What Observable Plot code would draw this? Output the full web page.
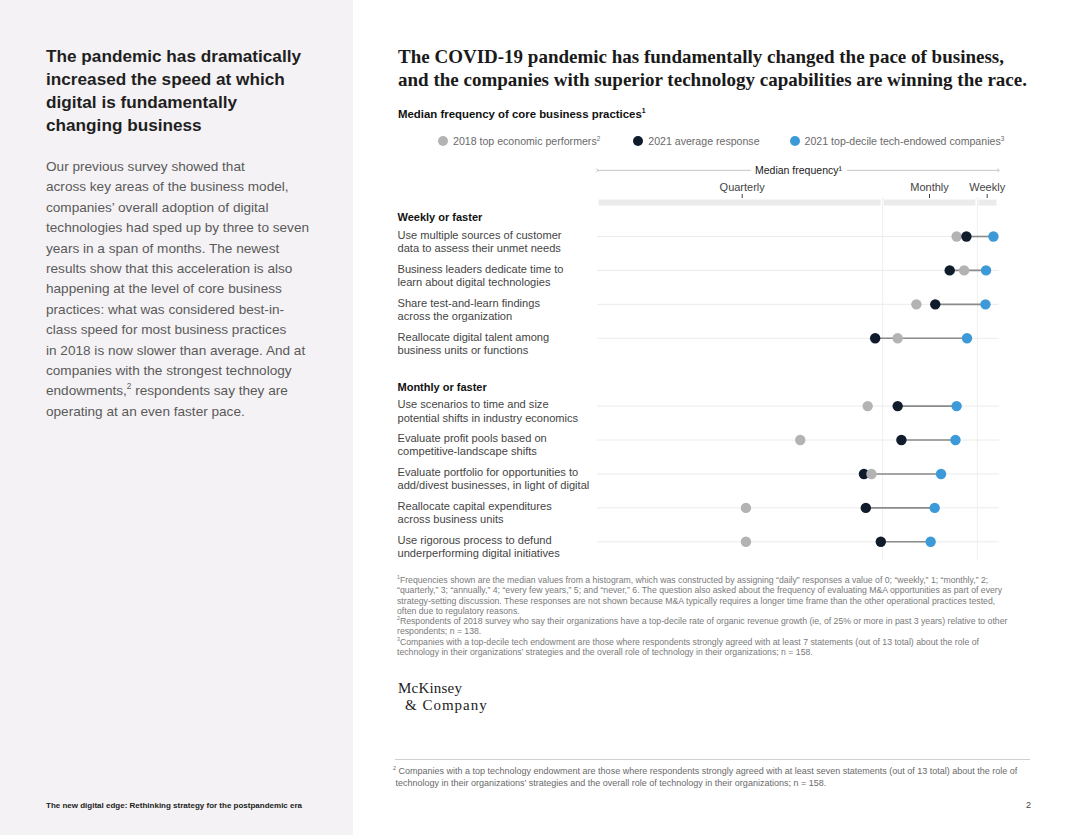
<!DOCTYPE html>
<html>
<head>
<meta charset="utf-8">
<script src="https://cdn.jsdelivr.net/npm/d3@7"></script>
<script src="https://cdn.jsdelivr.net/npm/@observablehq/plot@0.6"></script>
<style>
  html, body { margin: 0; padding: 0; }
  body { width: 1080px; height: 835px; position: relative; overflow: hidden; background: #fff; font-family: "Liberation Sans", Arial, sans-serif; }
  .abs { position: absolute; white-space: nowrap; }
  #leftpanel { position: absolute; left: 0; top: 0; width: 353px; height: 835px; background: #f4f2f4; }
  #lhead { left: 46px; top: 45px; font-size: 17.2px; line-height: 23px; font-weight: bold; color: #1f1f1f; }
  #lbody { left: 46px; top: 157px; font-size: 13.6px; line-height: 20.4px; color: #5a5a5a; }
  #lfoot { left: 46px; top: 801px; font-size: 8px; font-weight: bold; color: #222; }
  #title { left: 398px; top: 45px; font-family: "Liberation Serif", serif; font-weight: bold; font-size: 19px; line-height: 23px; color: #1a1a1a; }
  #subtitle { left: 398px; top: 108px; font-size: 11.4px; font-weight: bold; color: #111; }
  #legend { left: 438px; top: 135px; font-size: 10.6px; color: #6a6a6a; display: flex; }
  #legend .item { display: flex; align-items: center; margin-right: 0; }
  #legend .sw { width: 10px; height: 10px; border-radius: 50%; margin-right: 5px; }
  #chart { left: 390px; top: 160px; }
  #notes { left: 397px; top: 575px; font-size: 8.7px; line-height: 10.3px; color: #7a7a7a; }
  .logo { font-family: "Liberation Serif", serif; font-size: 15px; line-height: 16px; color: #222; }
  #logo1 { left: 398px; top: 680px; letter-spacing: 0.2px; }
  #logo2 { left: 405px; top: 696.5px; letter-spacing: 1px; }
  #hr { left: 395px; top: 759px; width: 635px; height: 0; border-top: 1px solid #cfcfcf; }
  #bnote { left: 393px; top: 765px; font-size: 9px; line-height: 12px; color: #6a6a6a; }
  #pnum { left: 1026px; top: 800px; font-size: 9px; color: #444; }
  sup { font-size: 0.6em; line-height: 0; vertical-align: 0.7em; }
</style>
</head>
<body>
<div id="leftpanel"></div>
<div class="abs" id="lhead">The pandemic has dramatically<br>increased the speed at which<br>digital is fundamentally<br>changing business</div>
<div class="abs" id="lbody">Our previous survey showed that<br>across key areas of the business model,<br>companies’ overall adoption of digital<br>technologies had sped up by three to seven<br>years in a span of months. The newest<br>results show that this acceleration is also<br>happening at the level of core business<br>practices: what was considered best-in-<br>class speed for most business practices<br>in 2018 is now slower than average. And at<br>companies with the strongest technology<br>endowments,<sup>2</sup> respondents say they are<br>operating at an even faster pace.</div>
<div class="abs" id="lfoot">The new digital edge: Rethinking strategy for the postpandemic era</div>

<div class="abs" id="title">The COVID-19 pandemic has fundamentally changed the pace of business,<br>and the companies with superior technology capabilities are winning the race.</div>
<div class="abs" id="subtitle">Median frequency of core business practices<sup>1</sup></div>
<div class="abs" id="legend"></div>
<div class="abs" id="chart"></div>
<div class="abs" id="notes"><sup>1</sup>Frequencies shown are the median values from a histogram, which was constructed by assigning “daily” responses a value of 0; “weekly,” 1; “monthly,” 2;<br>“quarterly,” 3; “annually,” 4; “every few years,” 5; and “never,” 6. The question also asked about the frequency of evaluating M&amp;A opportunities as part of every<br>strategy-setting discussion. These responses are not shown because M&amp;A typically requires a longer time frame than the other operational practices tested,<br>often due to regulatory reasons.<br><sup>2</sup>Respondents of 2018 survey who say their organizations have a top-decile rate of organic revenue growth (ie, of 25% or more in past 3 years) relative to other<br>respondents; n = 138.<br><sup>3</sup>Companies with a top-decile tech endowment are those where respondents strongly agreed with at least 7 statements (out of 13 total) about the role of<br>technology in their organizations’ strategies and the overall role of technology in their organizations; n = 158.</div>
<div class="abs logo" id="logo1">McKinsey</div>
<div class="abs logo" id="logo2">&amp; Company</div>
<div class="abs" id="hr"></div>
<div class="abs" id="bnote"><sup>2</sup> Companies with a top technology endowment are those where respondents strongly agreed with at least seven statements (out of 13 total) about the role of<br>&nbsp;technology in their organizations’ strategies and the overall role of technology in their organizations; n = 158.</div>
<div class="abs" id="pnum">2</div>

<script>
// ---- Data ----
const groups = ["Weekly or faster", "Monthly or faster"];
const practices = [
  "Use multiple sources of customer\ndata to assess their unmet needs",
  "Business leaders dedicate time to\nlearn about digital technologies",
  "Share test-and-learn findings\nacross the organization",
  "Reallocate digital talent among\nbusiness units or functions",
  "Use scenarios to time and size\npotential shifts in industry economics",
  "Evaluate profit pools based on\ncompetitive-landscape shifts",
  "Evaluate portfolio for opportunities to\nadd/divest businesses, in light of digital",
  "Reallocate capital expenditures\nacross business units",
  "Use rigorous process to defund\nunderperforming digital initiatives"
];
const practiceGroup = [0, 0, 0, 0, 1, 1, 1, 1, 1];
const seriesNames = ["2018 top economic performers", "2021 average response", "2021 top-decile tech-endowed companies"];
const seriesSup = ["2", "", "3"];
const seriesColors = ["#b3b3b3", "#101b2b", "#3d9ad8"];
// median frequency score (1 = weekly, 2 = monthly, 3 = quarterly)
const top2018    = [1.53, 1.40, 2.07, 2.17, 2.33, 2.69, 2.31, 2.98, 2.98];
const avg2021    = [1.36, 1.65, 1.90, 2.29, 2.17, 2.15, 2.35, 2.34, 2.26];
const topTech2021 = [0.89, 1.02, 1.03, 1.35, 1.53, 1.55, 1.80, 1.91, 1.98];
const tickValues = [3, 2, 1];
const tickLabels = ["Quarterly", "Monthly", "Weekly"];
const gridValues = [2.25, 1.17];
const xDomain = [3.77, 3, 2, 1, 0.8];

// ---- Build tables ----
const slotOf = i => i + practiceGroup[i];
const rows = practices.map((label, i) => ({label, slot: slotOf(i), avg: avg2021[i], top: topTech2021[i]}));
const headers = groups.map((g, gi) => ({label: g, slot: slotOf(practiceGroup.indexOf(gi)) - 0.5}));
const seriesValues = [top2018, avg2021, topTech2021];
const dots = [];
practices.forEach((p, i) => seriesNames.forEach((s, si) => dots.push({series: s, slot: slotOf(i), value: seriesValues[si][i]})));
dots.sort((a, b) => b.value - a.value);
const bandEdges = [xDomain[0], ...gridValues, xDomain[xDomain.length - 1]];
const bandSegs = d3.pairs(bandEdges).map(([a, b]) => ({a, b}));

// ---- Legend ----
const legend = document.getElementById("legend");
const gaps = [33, 30, 0];
seriesNames.forEach((s, i) => {
  const it = document.createElement("div");
  it.className = "item";
  it.style.marginRight = gaps[i] + "px";
  it.innerHTML = `<span class="sw" style="background:${seriesColors[i]}"></span><span>${s}${seriesSup[i] ? `<sup>${seriesSup[i]}</sup>` : ""}</span>`;
  legend.appendChild(it);
});

// ---- Chart ----
const W = 620, H = 405;
const chart = Plot.plot({
  width: W,
  height: H,
  marginLeft: 207,
  marginRight: 11,
  marginTop: 37,
  marginBottom: 5,
  style: {fontFamily: "Liberation Sans, Arial, sans-serif", fontSize: "11px", background: "transparent"},
  x: {type: "linear", domain: xDomain, range: [207, 351.7, 539, 596.7, 608], axis: null},
  y: {type: "linear", domain: [0, 9], range: [76, 381.3], axis: null},
  color: {domain: seriesNames, range: seriesColors},
  marks: [
    Plot.ruleX(gridValues, {stroke: "#efefef", strokeWidth: 1}),
    Plot.ruleY(bandSegs, {y: -1, x1: "a", x2: "b", stroke: "#ebebeb", strokeWidth: 6, insetLeft: 1.5, insetRight: 1.5}),
    Plot.ruleY(rows, {y: "slot", stroke: "#ebebeb", strokeWidth: 1}),
    Plot.link([0], {x1: xDomain[0], x2: xDomain[xDomain.length - 1], y1: -1.95, y2: -1.95, stroke: "#b5b5b5", strokeWidth: 0.8, marker: "arrow"}),
    Plot.text(["Median frequency\u00b9"], {y: -1.95, text: d => d, fill: "#1a1a1a", fontSize: 10.5, stroke: "white", strokeWidth: 10}),
    Plot.axisX({anchor: "top", ticks: tickValues, tickFormat: d => tickLabels[tickValues.indexOf(d)], tickSize: 4, tickPadding: 3, color: "#444", fontSize: 11, label: null}),
    Plot.link(rows, {x1: "avg", x2: "top", y1: "slot", y2: "slot", stroke: "#8a8a8a", strokeWidth: 1.6}),
    Plot.dot(dots, {x: "value", y: "slot", fill: "series", r: 5.2}),
    Plot.text(headers, {y: "slot", text: "label", frameAnchor: "left", dx: -200, dy: -2, textAnchor: "start", fontWeight: "bold", fill: "#111", fontSize: 11}),
    Plot.text(rows, {y: "slot", text: "label", frameAnchor: "left", dx: -200, textAnchor: "start", lineAnchor: "top", dy: -7, lineHeight: 1.18, fill: "#444", fontSize: 11.1})
  ]
});
document.getElementById("chart").appendChild(chart);
</script>
</body>
</html>
